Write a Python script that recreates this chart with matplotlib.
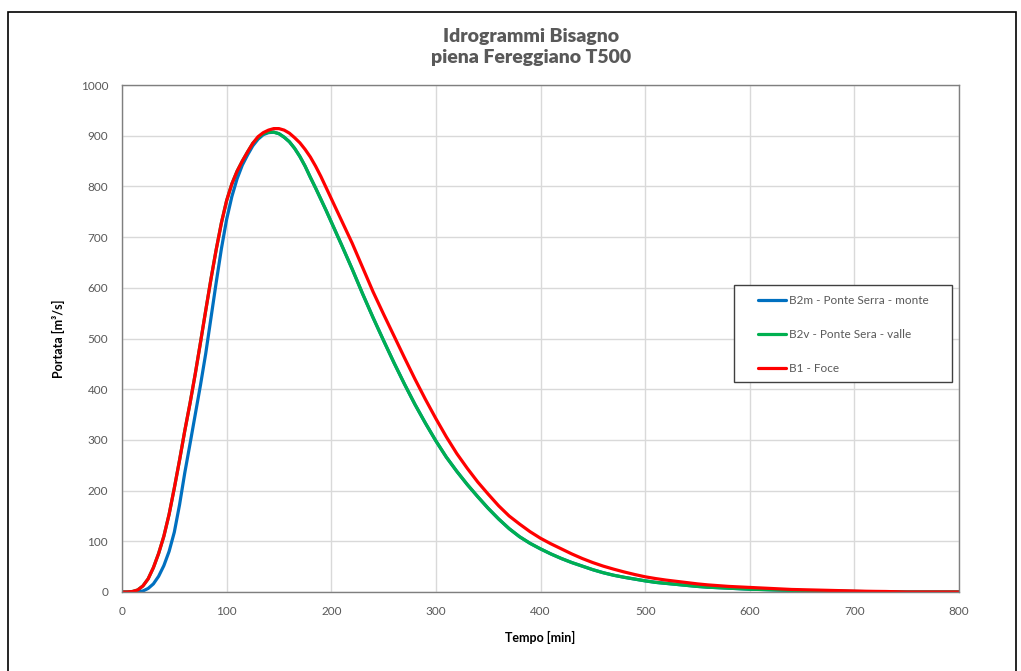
import matplotlib
matplotlib.use("Agg")
import matplotlib.pyplot as plt
from matplotlib.patches import Rectangle

# hydrographs: 5-minute steps up to 200 min, then 10-minute steps to 800 min
TEMPO = list(range(0, 200, 5)) + list(range(200, 801, 10))

B2M = [0, 0, 0, 0.5, 2, 7, 16, 31, 52, 80,
       118, 172, 235, 292, 350, 408, 470, 540, 610, 677,
       735, 780, 815, 842, 862, 880, 893, 902, 906, 907,
       904, 897, 888, 875, 859, 840, 818, 797, 775, 753,
       730, 684, 637, 588, 541, 496, 452, 410, 370, 333,
       298, 266, 238, 212, 188, 165, 144, 125, 109, 96,
       85, 75, 66, 58, 51, 44, 38, 33, 29, 25.5,
       22, 19, 17, 15, 13, 11, 9.5, 8.5, 7.5, 6.5,
       5.5, 5, 4.3, 3.7, 3.2, 2.8, 2.4, 2, 1.6, 1.3,
       1, 0.8, 0.6, 0.4, 0.2, 0, 0, 0, 0, 0, 0]

B2V = [0, 0, 1, 4, 12, 26, 48, 76, 110, 153,
       205, 260, 318, 372, 430, 492, 555, 617, 675, 728,
       772, 805, 830, 850, 868, 885, 896, 904, 907, 907,
       904, 897, 888, 875, 859, 840, 818, 797, 775, 753,
       730, 684, 637, 588, 541, 496, 452, 410, 370, 333,
       298, 266, 238, 212, 188, 165, 144, 125, 109, 96,
       85, 75, 66, 58, 51, 44, 38, 33, 29, 25.5,
       22, 19, 17, 15, 13, 11, 9.5, 8.5, 7.5, 6.5,
       5.5, 5, 4.3, 3.7, 3.2, 2.8, 2.4, 2, 1.6, 1.3,
       1, 0.8, 0.6, 0.4, 0.2, 0, 0, 0, 0, 0, 0]

B1 = [0, 0, 1, 4, 12, 26, 48, 76, 110, 153,
      205, 260, 318, 372, 430, 492, 555, 617, 675, 728,
      772, 805, 830, 850, 868, 885, 898, 906, 911, 914,
      914, 911, 905, 896, 886, 873, 858, 840, 820, 798,
      776, 732, 688, 640, 592, 548, 505, 462, 420, 380,
      342, 306, 273, 244, 217, 193, 170, 150, 134, 119,
      106, 95, 85, 75, 66, 58, 51, 45, 39.5, 34.5,
      30, 26.5, 23.5, 21, 18.5, 16, 14, 12.5, 11, 10,
      9, 8, 7, 6, 5, 4.5, 4, 3.5, 3, 2.5,
      2, 1.5, 1.2, 1, 0.5, 0, 0, 0, 0, 0, 0]

SERIES = [("B2m - Ponte Serra - monte", B2M, "#0070C0"),
          ("B2v - Ponte Sera - valle", B2V, "#00B050"),
          ("B1 - Foce", B1, "#FF0000")]

GRAY = "#595959"
plt.rcParams["font.family"] = ["Lato", "DejaVu Sans"]

W, H = 1021, 671
fig = plt.figure(figsize=(W / 100, H / 100), dpi=100)
ax = fig.add_axes([122 / W, 1 - 592 / H, (959 - 122) / W, (592 - 85) / H])

for name, ys, col in SERIES:
    ax.plot(TEMPO, ys, color=col, lw=2.3, label=name, solid_capstyle="round")

ax.set_xlim(0, 800)
ax.set_ylim(0, 1000)
ax.set_xticks(range(0, 801, 100))
ax.set_yticks(range(0, 1001, 100))
ax.grid(True, color="#D9D9D9", lw=1)
ax.set_axisbelow(True)
ax.tick_params(length=0, labelsize=8.5, labelcolor=GRAY, pad=10)
for s in ax.spines.values():
    s.set_color("#7F7F7F")
    s.set_linewidth(1)

ax.set_xlabel("Tempo [min]", fontsize=9, fontweight="bold", labelpad=10)
ax.set_ylabel("Portata [m³/s]", fontsize=9, fontweight="bold", labelpad=11)

fig.text(531 / W, 1 - 47 / H, "Idrogrammi Bisagno\npiena Fereggiano T500",
         ha="center", va="center", fontsize=14, fontweight="heavy", color=GRAY,
         linespacing=1.25)

# legend entries without their own frame; the box is drawn separately so the
# entries can sit indented inside it
ax.legend(loc="upper left", bbox_to_anchor=(758 / W, 1 - 295 / H),
          bbox_transform=fig.transFigure, frameon=False, fontsize=8.5,
          labelcolor=GRAY, handlelength=2.4, handletextpad=0.25,
          labelspacing=1.95, borderpad=0, borderaxespad=0)
ax.add_artist(Rectangle((734 / W, 1 - 382 / H), (952 - 734) / W, 97 / H,
                        transform=fig.transFigure, fill=True, facecolor="white",
                        edgecolor="#404040", lw=1, zorder=4.9))

# outer chart frame
fig.patches.append(Rectangle((8 / W, -0.05), (1016 - 8) / W, 1.05 - 12 / H,
                             transform=fig.transFigure, fill=False,
                             edgecolor="black", lw=1.2))

fig.savefig("out.png", dpi=100)
